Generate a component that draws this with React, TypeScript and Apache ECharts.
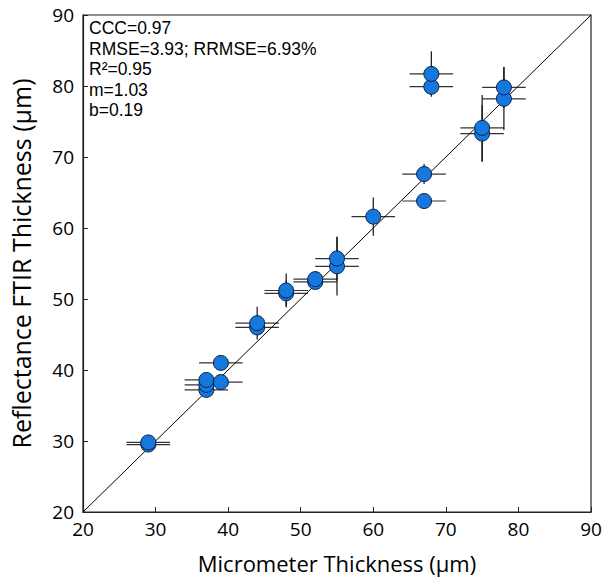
import React, { useEffect, useRef } from "react";
import * as echarts from "echarts";

const micrometer = [29, 29, 37, 37, 37, 39, 39, 44, 44, 48, 48, 52, 52, 55, 55, 60, 67, 67, 68, 68, 75, 75, 78, 78];
const ftir = [29.5, 29.8, 37.2, 37.9, 38.6, 38.3, 41.0, 46.0, 46.6, 50.8, 51.2, 52.4, 52.8, 54.6, 55.7, 61.6, 63.8, 67.6, 79.9, 81.7, 73.3, 74.1, 78.2, 79.8];
const xErr = [3, 3, 3, 3, 3, 3, 3, 3, 3, 3, 3, 3, 3, 3, 3, 3, 3, 3, 3, 3, 3, 3, 3, 3];
const yErr = [0.3, 0.3, 0.5, 0.5, 0.5, 0.5, 0.5, 1.0, 2.3, 1.8, 2.4, 0.5, 0.5, 4.1, 3.1, 2.7, 0.5, 1.4, 1.0, 3.2, 4.0, 4.65, 4.4, 2.9];
const identityLine = [[20, 20], [90, 90]];
const statLines = ["CCC=0.97", "RMSE=3.93; RRMSE=6.93%", "R²=0.95", "m=1.03", "b=0.19"];
const axisMin = 20;
const axisMax = 90;
const axisInterval = 10;

const FONT = "'Open Sans', 'Noto Sans', sans-serif";
const NOTE_FONT = "'Liberation Sans', Arial, sans-serif";

export default function App() {
  const ref = useRef<HTMLDivElement>(null);
  useEffect(() => {
    document.body.style.margin = "0";
    const chart = echarts.init(ref.current!, undefined, { renderer: "svg" });
    const points = micrometer.map((x, i) => [x, ftir[i], xErr[i], yErr[i]]);
    chart.setOption({
      animation: false,
      textStyle: { fontFamily: FONT },
      grid: { left: 80, top: 15, width: 511, height: 504, show: true, borderColor: "#222", borderWidth: 1.2, backgroundColor: "transparent" },
      xAxis: {
        type: "value",
        min: axisMin,
        max: axisMax,
        interval: axisInterval,
        name: "Micrometer Thickness (μm)",
        nameLocation: "middle",
        nameGap: 40,
        nameTextStyle: { fontSize: 22, color: "#000", fontFamily: FONT },
        axisLine: { show: true, lineStyle: { color: "#222", width: 1.2 } },
        axisTick: { show: true, inside: true, length: 5, lineStyle: { color: "#222" } },
        axisLabel: { fontSize: 19, color: "#000", margin: 7, fontFamily: FONT },
        splitLine: { show: false },
      },
      yAxis: {
        type: "value",
        min: axisMin,
        max: axisMax,
        interval: axisInterval,
        name: "Reflectance FTIR Thickness (μm)",
        nameLocation: "middle",
        nameGap: 50,
        nameTextStyle: { fontSize: 25, color: "#000", fontFamily: FONT },
        axisLine: { show: true, lineStyle: { color: "#222", width: 1.2 } },
        axisTick: { show: true, inside: true, length: 5, lineStyle: { color: "#222" } },
        axisLabel: { fontSize: 19, color: "#000", margin: 9, fontFamily: FONT },
        splitLine: { show: false },
      },
      graphic: [
        {
          type: "text",
          left: 89,
          top: 18,
          style: { text: statLines.join("\n"), fontSize: 17.5, lineHeight: 20.5, fill: "#000", fontFamily: NOTE_FONT },
          z: 100,
        },
      ],
      series: [
        {
          type: "custom",
          z: 1,
          data: points,
          renderItem: (params: any, api: any) => {
            const x = api.value(0);
            const y = api.value(1);
            const ex = api.value(2);
            const ey = api.value(3);
            const l = api.coord([x - ex, y]);
            const r = api.coord([x + ex, y]);
            const t = api.coord([x, y + ey]);
            const b = api.coord([x, y - ey]);
            return {
              type: "group",
              children: [
                { type: "line", shape: { x1: l[0], y1: l[1], x2: r[0], y2: r[1] }, style: { stroke: "#333", lineWidth: 1.2 } },
                { type: "line", shape: { x1: t[0], y1: t[1], x2: b[0], y2: b[1] }, style: { stroke: "#111", lineWidth: 1.2 } },
              ],
            };
          },
        },
        {
          type: "line",
          z: 2,
          data: identityLine,
          showSymbol: false,
          symbol: "none",
          lineStyle: { color: "#000", width: 1 },
        },
        {
          type: "scatter",
          z: 3,
          data: points.map((p) => [p[0], p[1]]),
          symbol: "circle",
          symbolSize: 15,
          itemStyle: { color: "#1478dc", borderColor: "#10204a", borderWidth: 1, opacity: 1 },
        },
      ],
    });
    return () => chart.dispose();
  }, []);
  return <div ref={ref} style={{ width: 611, height: 579 }} />;
}
